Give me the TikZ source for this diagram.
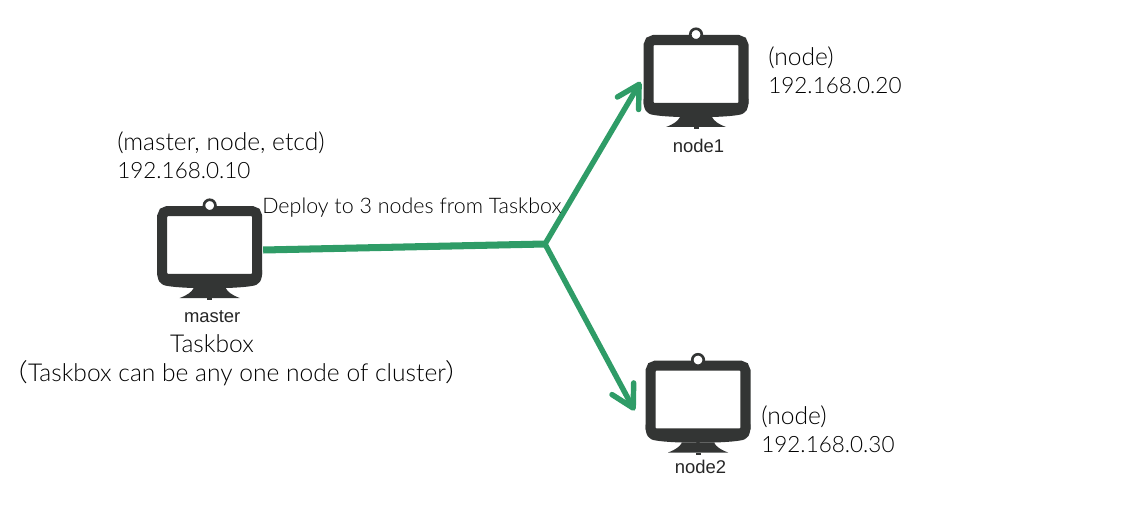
\documentclass[tikz,border=0pt]{standalone}
\usepackage{fontspec}
\usepackage{xcolor}
\usepackage{tikz}
\usetikzlibrary{arrows.meta, calc}
\setmainfont{Lato}[UprightFont=* Light]
\newfontfamily\helv{Liberation Sans}
\newfontfamily\cjk{Noto Sans CJK SC}[UprightFont=* Light]
\definecolor{flowgreen}{HTML}{2F9C67}
\definecolor{bodygray}{HTML}{333534}
\newcommand{\ipaddr}[1]{{\fontsize{12.8}{16}\selectfont #1}}
\tikzset{
    screenbox/.style={draw=bodygray, fill=white, line width=5.7pt, rounded corners=3pt,
        inner sep=0pt, minimum width=95*0.569pt, minimum height=68*0.569pt},
    hostname/.style={font=\helv\fontsize{10.5}{12}\selectfont, text=black!85},
    addr/.style={align=left, anchor=north west, inner sep=0pt,
        font=\fontsize{14}{16}\selectfont},
    caption/.style={align=center, inner sep=0pt, font=\fontsize{14}{16}\selectfont},
    flow/.style={draw=flowgreen, line width=4pt},
    branch/.style={flow, line width=3.1pt, line cap=round,
        -{Straight Barb[length=12.5pt,width=14pt,round]}},
}
% name, x, y of the screen centre, text under it, gap to the text
\newcommand{\monitor}[5]{
    \fill[bodygray] (#2-52.5,#3+25) .. controls (#2-52.5,#3+36) and (#2-50,#3+40) .. (#2-42,#3+41)
        .. controls (#2-25,#3+44) and (#2+25,#3+44) .. (#2+42,#3+41)
        .. controls (#2+50,#3+40) and (#2+52.5,#3+36) .. (#2+52.5,#3+25) -- cycle;
    \fill[bodygray] (#2-30,#3+53) .. controls (#2-22,#3+50) and (#2-18,#3+47) .. (#2-16,#3+43)
        -- (#2+16,#3+43) .. controls (#2+18,#3+47) and (#2+22,#3+50) .. (#2+30,#3+53) -- cycle;
    \fill[bodygray] (#2-2.5,#3+53) rectangle (#2+2.5,#3+55);
    \node[screenbox] (#1) at (#2,#3) {};
    \filldraw[draw=bodygray, fill=white, line width=1.5pt] (#2,#3-39.5) circle (5.75);
    \node[hostname] (#1 name) at (#2+2.5,#3+#5) {#4};
}
\begin{document}
\begin{tikzpicture}[x=0.02cm, y=-0.02cm]
    \useasboundingbox (0,0) rectangle (1128,530);

    \monitor{master}{209.7}{245}{master}{72}
    \monitor{node1}{696}{74}{node1}{72}
    \monitor{node2}{698}{399.5}{node2}{67}

    \coordinate (hub) at (545,244);
    \draw[flow] (master.east) ++(1,5) -- (hub);
    \draw[branch] (hub) -- ($(node1.west)+(-3,8)$);
    \draw[branch] (hub) -- ($(node2.west)+(-11,11)$);

    \node[addr] (master addr) at (117,131) {(master, node, etcd)\\\ipaddr{192.168.0.10}};
    \node[addr] (node1 addr) at (768,46) {(node)\\\ipaddr{192.168.0.20}};
    \node[addr] (node2 addr) at (761,405) {(node)\\\ipaddr{192.168.0.30}};
    \node[caption, anchor=west, font=\fontsize{12.2}{14}\selectfont] (deploy) at (262,208) {Deploy to 3 nodes from Taskbox};
    \node[caption] (taskbox) at (212,344) {Taskbox};
    \node[caption] (any node) at (237,373) {{\cjk（}Taskbox can be any one node of cluster{\cjk）}};
\end{tikzpicture}
\end{document}
